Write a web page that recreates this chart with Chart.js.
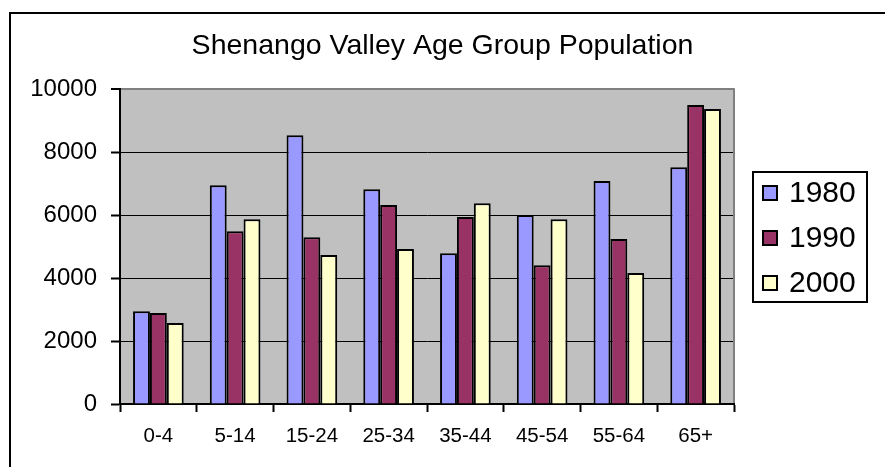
<!DOCTYPE html>
<html>
<head>
<meta charset="utf-8">
<title>Shenango Valley Age Group Population</title>
<script src="https://cdn.jsdelivr.net/npm/chart.js@4"></script>
<style>
    html, body { margin: 0; padding: 0; background: #fff; }
    #wrap { width: 885px; height: 467px; }
</style>
</head>
<body>
<div id="wrap"><canvas id="popChart" width="885" height="467"></canvas></div>
<script>
// Datos del gráfico
const ageGroups = ['0-4', '5-14', '15-24', '25-34', '35-44', '45-54', '55-64', '65+'];
const years = ['1980', '1990', '2000'];
const pop1980 = [2950, 6950, 8540, 6820, 4790, 6000, 7080, 7520];
const pop1990 = [2890, 5490, 5300, 6320, 5940, 4410, 5240, 9500];
const pop2000 = [2570, 5870, 4730, 4920, 6380, 5870, 4160, 9370];
const yTicks = [0, 2000, 4000, 6000, 8000, 10000];

const barColors = ['#9999FF', '#993366', '#FFFFCC'];

// Fondo gris del área de trazado + borde gris a la derecha
const plotArea = {
    id: 'plotArea',
    beforeDraw(chart) {
        const a = chart.chartArea;
        const ctx = chart.ctx;
        ctx.save();
        ctx.fillStyle = '#C0C0C0';
        ctx.fillRect(a.left, a.top, a.right - a.left, a.bottom - a.top);
        ctx.restore();
    },
    beforeDatasetsDraw(chart) {
        const a = chart.chartArea;
        const ctx = chart.ctx;
        ctx.save();
        ctx.fillStyle = '#808080';
        ctx.fillRect(a.right - 1, a.top - 1, 2, a.bottom - a.top);
        ctx.restore();
    }
};

// Leyenda con recuadro, como en la hoja de cálculo
const boxLegend = {
    id: 'boxLegend',
    afterDraw(chart) {
        const ctx = chart.ctx;
        const left = 752, top = 171, w = 116, h = 132;
        ctx.save();
        ctx.strokeStyle = '#000';
        ctx.lineWidth = 2;
        ctx.strokeRect(left + 1, top + 1, w - 2, h - 2);
        ctx.font = '30px "Liberation Sans", Arial, sans-serif';
        ctx.textBaseline = 'middle';
        chart.data.datasets.forEach((ds, i) => {
            const cy = 193 + i * 45;
            ctx.fillStyle = '#000';
            ctx.fillRect(762, cy - 8, 16, 16);
            ctx.fillStyle = ds.backgroundColor;
            ctx.fillRect(764, cy - 6, 12, 12);
            ctx.fillStyle = '#000';
            ctx.fillText(ds.label, 789, cy + 1);
        });
        ctx.restore();
    }
};

// Marco exterior (solo izquierda y arriba quedan visibles)
const outerFrame = {
    id: 'outerFrame',
    afterDraw(chart) {
        const ctx = chart.ctx;
        ctx.save();
        ctx.fillStyle = '#000';
        ctx.fillRect(9, 12, 2, 455);
        ctx.fillRect(9, 12, 876, 2);
        ctx.restore();
    }
};

document.addEventListener('DOMContentLoaded', function() {
    const ctx = document.getElementById('popChart').getContext('2d');
    const series = [pop1980, pop1990, pop2000];
    new Chart(ctx, {
        type: 'bar',
        data: {
            labels: ageGroups,
            datasets: years.map((y, i) => ({
                label: y,
                data: series[i],
                backgroundColor: barColors[i],
                borderColor: '#000',
                borderWidth: 2,
                borderSkipped: 'start',
                categoryPercentage: 0.66,
                barPercentage: 1.0
            }))
        },
        options: {
            responsive: false,
            animation: false,
            layout: { padding: 0 },
            plugins: {
                legend: { display: false },
                tooltip: { enabled: false },
                title: {
                    display: true,
                    text: 'Shenango Valley Age Group Population',
                    color: '#000',
                    font: { family: '"Liberation Sans", Arial, sans-serif', size: 28.5, weight: 'normal' },
                    padding: { top: 29, bottom: 26 }
                }
            },
            scales: {
                x: {
                    grid: {
                        drawOnChartArea: false,
                        drawTicks: true,
                        tickLength: 8,
                        tickColor: '#000',
                        tickWidth: 2
                    },
                    border: { color: '#000', width: 2 },
                    ticks: {
                        color: '#000',
                        padding: 12,
                        maxRotation: 0,
                        font: { family: '"Liberation Sans", Arial, sans-serif', size: 20.5 }
                    },
                    afterFit: s => { s.height = 63; }
                },
                y: {
                    min: 0,
                    max: 10000,
                    afterBuildTicks: s => { s.ticks = yTicks.map(v => ({ value: v })); },
                    grid: {
                        color: c => c.tick && c.tick.value === 10000 ? '#808080' : '#000',
                        lineWidth: c => c.tick && c.tick.value === 10000 ? 2 : 1,
                        tickLength: 9,
                        tickColor: '#000',
                        tickWidth: 2
                    },
                    border: { color: '#000', width: 2 },
                    ticks: {
                        color: '#000',
                        padding: 14,
                        callback: v => String(v),
                        font: { family: '"Liberation Sans", Arial, sans-serif', size: 24 }
                    },
                    afterFit: s => { s.width = 120; }
                },
                // eje vacío a la derecha: reserva el espacio de la leyenda
                yLegend: {
                    position: 'right',
                    display: true,
                    grid: { display: false },
                    border: { display: false },
                    ticks: { display: false },
                    afterFit: s => { s.width = 151; }
                }
            }
        },
        plugins: [plotArea, boxLegend, outerFrame]
    });
});
</script>
</body>
</html>
